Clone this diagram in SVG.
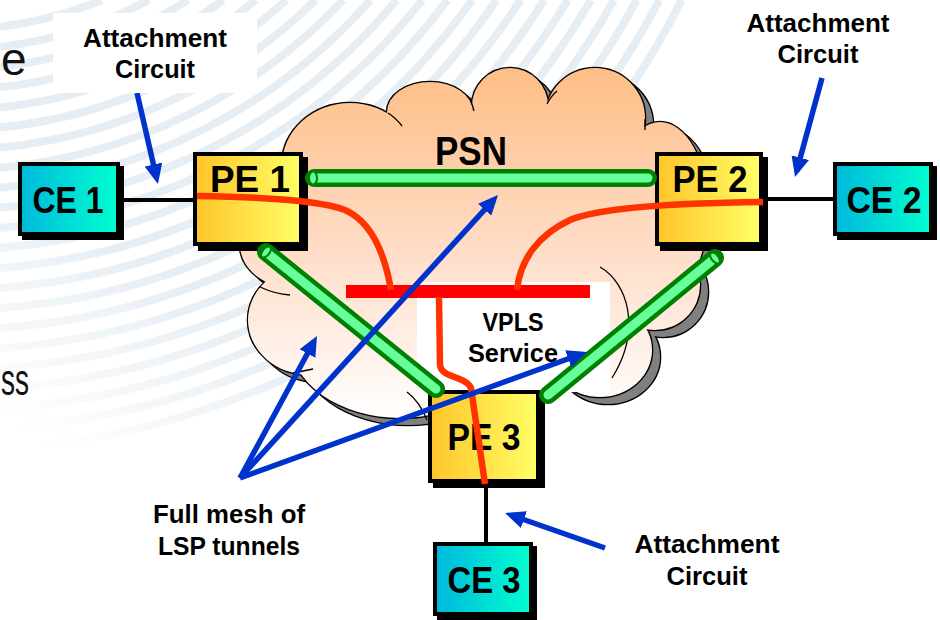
<svg xmlns="http://www.w3.org/2000/svg" width="940" height="620" viewBox="0 0 940 620">
<defs>
<style>
 text { font-family: "Liberation Sans", Arial, sans-serif; font-weight: bold; fill: #000; }
 .frag { font-weight: normal; fill: #111; }
 .lbl { font-size: 25px; text-anchor: middle; }
 .box { font-size: 37px; text-anchor: middle; }
 .link { stroke: #000; stroke-width: 4; fill: none; }
 .arrow { stroke: #0033CC; stroke-width: 5.5; fill: none; marker-end: url(#ah); }
 .red { stroke: #FF3300; stroke-width: 6.5; fill: none; }
 .tubeO { stroke: #008000; stroke-width: 18; stroke-linecap: round; fill: none; }
 .tubeI { stroke: #66FF99; stroke-width: 9; stroke-linecap: round; fill: none; }
 .tubeE { fill: #66FF99; stroke: #008000; stroke-width: 2; }
 .shadow { fill: #000; stroke: #000; stroke-width: 4; }
 .pe { fill: url(#peG); stroke: #000; stroke-width: 4; }
 .ce { fill: url(#ceG); stroke: #000; stroke-width: 4; }
 .tick { fill: none; stroke: #000; stroke-width: 1.3; }
 .swoosh { fill: none; stroke: url(#swG); stroke-width: 8; }
</style>
<linearGradient id="peG" x1="0" y1="0" x2="1" y2="0">
 <stop offset="0" stop-color="#FFC52A"/>
 <stop offset="1" stop-color="#FFFF66"/>
</linearGradient>
<linearGradient id="ceG" x1="0" y1="0" x2="1" y2="0">
 <stop offset="0" stop-color="#00B8DC"/>
 <stop offset="1" stop-color="#00FFD0"/>
</linearGradient>
<linearGradient id="cloudG" gradientUnits="userSpaceOnUse" x1="0" y1="70" x2="0" y2="420">
 <stop offset="0" stop-color="#FFBE86"/>
 <stop offset="0.5" stop-color="#FFDCC6"/>
 <stop offset="1" stop-color="#FFFFFF"/>
</linearGradient>
<linearGradient id="swG" gradientUnits="userSpaceOnUse" x1="0" y1="420" x2="110" y2="240">
 <stop offset="0" stop-color="#E6EEF4" stop-opacity="0"/>
 <stop offset="1" stop-color="#E6EEF4" stop-opacity="1"/>
</linearGradient>
<marker id="ah" markerUnits="userSpaceOnUse" markerWidth="20" markerHeight="18" viewBox="0 0 20 18" refX="14" refY="9" orient="auto">
 <path d="M0,0 L20,9 L0,18 z" fill="#0033CC"/>
</marker>
<g id="cloudShape">
 <ellipse cx="350" cy="165" rx="68" ry="62"/>
 <ellipse cx="430" cy="112" rx="43" ry="30"/>
 <ellipse cx="510" cy="106" rx="38" ry="38"/>
 <ellipse cx="595" cy="118" rx="50" ry="50"/>
 <ellipse cx="660" cy="210" rx="48" ry="88"/>
 <ellipse cx="655" cy="285" rx="45" ry="45"/>
 <ellipse cx="600" cy="350" rx="52" ry="47"/>
 <ellipse cx="400" cy="340" rx="110" ry="78"/>
 <ellipse cx="310" cy="320" rx="62" ry="55"/>
 <ellipse cx="300" cy="245" rx="60" ry="45"/>
 <ellipse cx="480" cy="240" rx="215" ry="130"/>
</g>
</defs>

<g id="background">
 <path class="swoosh" d="M0,26.9 A400 400 0 0 0 102,0 M0,47 A420 420 0 0 0 148.7,0 M0,67.1 A440 440 0 0 0 188.1,0 M0,87.3 A460 460 0 0 0 223.3,0 M0,107.4 A480 480 0 0 0 255.8,0 M0,127.5 A500 500 0 0 0 286.3,0 M0,147.6 A520 520 0 0 0 315.4,0 M0,167.7 A540 540 0 0 0 343.3,0 M0,187.8 A560 560 0 0 0 370.4,0 M0,207.8 A580 580 0 0 0 396.7,0 M0,227.9 A600 600 0 0 0 422.3,0 M0,248 A620 620 0 0 0 447.5,0 M0,268 A640 640 0 0 0 472.2,0 M0,288.1 A660 660 0 0 0 496.5,0 M0,308.2 A680 680 0 0 0 520.5,0 M0,328.2 A700 700 0 0 0 544.2,0 M0,348.3 A720 720 0 0 0 567.7,0 M0,368.3 A740 740 0 0 0 590.9,0 M0,388.4 A760 760 0 0 0 613.9,0 M0,408.4 A780 780 0 0 0 636.7,0 M0,428.4 A800 800 0 0 0 659.3,0 M0,448.5 A820 820 0 0 0 681.8,0"/>
 <text class="frag" x="1" y="75" font-size="46">e</text>
 <text class="frag" x="1" y="395" font-size="44" textLength="28" lengthAdjust="spacingAndGlyphs">ss</text>
</g>

<g id="psn">
 <use href="#cloudShape" transform="translate(8,7)" fill="#808080" stroke="#000" stroke-width="2.6"/>
 <use href="#cloudShape" transform="translate(8,7)" fill="#808080" stroke="none"/>
 <use href="#cloudShape" fill="url(#cloudG)" stroke="#000" stroke-width="2.6"/>
 <use href="#cloudShape" fill="url(#cloudG)" stroke="none"/>
 <path class="tick" d="M388,113 Q396,118 402,126 M471,102 Q473,106 474,111 M547,104 Q551,96 557,91 M645,119 L645,130 M260,287 Q275,294 290,295 M293,373 Q303,371 313,369 M407,392 Q420,402 427,420 M600,267 C628,283 642,330 612,378"/>
 <text x="471" y="165" font-size="40" text-anchor="middle" textLength="72" lengthAdjust="spacingAndGlyphs">PSN</text>
</g>

<g id="vpls">
 <rect x="417" y="282" width="193" height="110" fill="#FFFFFF"/>
 <rect x="346" y="285" width="244" height="13" fill="#FF0000"/>
 <text class="lbl" x="513" y="331" textLength="61" lengthAdjust="spacingAndGlyphs">VPLS</text>
 <text class="lbl" x="513" y="362" textLength="90" lengthAdjust="spacingAndGlyphs">Service</text>
</g>

<g id="ce1">
 <rect class="shadow" x="24" y="168" width="98" height="70"/>
 <rect class="ce" x="20" y="164" width="98" height="70"/>
 <text class="box" x="68" y="213" textLength="71" lengthAdjust="spacingAndGlyphs">CE 1</text>
</g>
<g id="pe1">
 <rect class="shadow" x="200" y="159" width="106" height="90"/>
 <rect class="pe" x="195" y="154" width="106" height="90"/>
 <text class="box" x="250" y="192" textLength="80" lengthAdjust="spacingAndGlyphs">PE 1</text>
</g>
<g id="pe2">
 <rect class="shadow" x="662" y="159" width="104" height="90"/>
 <rect class="pe" x="657" y="154" width="104" height="90"/>
 <text class="box" x="710" y="192" textLength="75" lengthAdjust="spacingAndGlyphs">PE 2</text>
</g>
<g id="ce2">
 <rect class="shadow" x="839" y="168" width="96" height="70"/>
 <rect class="ce" x="835" y="164" width="96" height="70"/>
 <text class="box" x="884" y="213" textLength="75" lengthAdjust="spacingAndGlyphs">CE 2</text>
</g>
<g id="pe3">
 <rect class="shadow" x="435" y="397" width="108" height="89"/>
 <rect class="pe" x="430" y="392" width="108" height="89"/>
 <text class="box" x="484" y="450" textLength="73" lengthAdjust="spacingAndGlyphs">PE 3</text>
</g>
<g id="ce3">
 <rect class="shadow" x="439" y="548" width="96" height="70"/>
 <rect class="ce" x="435" y="544" width="96" height="70"/>
 <text class="box" x="484" y="593" textLength="73" lengthAdjust="spacingAndGlyphs">CE 3</text>
</g>

<g id="connectors">
 <path class="link" d="M121,200 L194,200 M762,199 L834,199 M486,483 L486,543"/>
 <path class="red" d="M197,196 C260,197 320,200 345,210 C372,222 385,255 391,290"/>
 <path class="red" d="M763,202 C680,203 600,207 570,220 C538,235 520,260 517,290"/>
 <path class="red" d="M439,297 L440,365 C441,378 466,376 471,388 L485,484"/>
 <path class="tubeO" d="M314,178 L648,178"/>
 <path class="tubeI" d="M318,178 L648,178"/>
 <ellipse class="tubeE" cx="313" cy="178" rx="4" ry="6.5"/>
 <path class="tubeO" d="M266,252 L436,389"/>
 <path class="tubeI" d="M269,254.5 L436,389"/>
 <ellipse class="tubeE" cx="0" cy="0" rx="3.5" ry="6.5" transform="translate(266,252) rotate(38.9)"/>
 <path class="tubeO" d="M715,258 L548,395"/>
 <path class="tubeI" d="M712,260.5 L548,395"/>
 <ellipse class="tubeE" cx="0" cy="0" rx="3.5" ry="6.5" transform="translate(715,258) rotate(-39.4)"/>
 <path class="arrow" d="M137,93 L156.6,178.2"/>
 <path class="arrow" d="M822,78 L796.6,171.2"/>
 <path class="arrow" d="M605,548 L510.7,515"/>
 <path class="arrow" d="M240,478 L314.1,341.3"/>
 <path class="arrow" d="M240,478 L494,199.4"/>
 <path class="arrow" d="M240,478 L581.4,354"/>
</g>

<g id="labels">
 <rect x="53" y="13" width="204" height="80" fill="#FFFFFF"/>
 <text class="lbl" x="155" y="47" textLength="144" lengthAdjust="spacingAndGlyphs">Attachment</text>
 <text class="lbl" x="155" y="78" textLength="80" lengthAdjust="spacingAndGlyphs">Circuit</text>
 <text class="lbl" x="818" y="32" textLength="143" lengthAdjust="spacingAndGlyphs">Attachment</text>
 <text class="lbl" x="818" y="63" textLength="81" lengthAdjust="spacingAndGlyphs">Circuit</text>
 <text class="lbl" x="707" y="553" textLength="145" lengthAdjust="spacingAndGlyphs">Attachment</text>
 <text class="lbl" x="707" y="585" textLength="81" lengthAdjust="spacingAndGlyphs">Circuit</text>
 <text class="lbl" x="229" y="523" textLength="152" lengthAdjust="spacingAndGlyphs">Full mesh of</text>
 <text class="lbl" x="229" y="555" textLength="142" lengthAdjust="spacingAndGlyphs">LSP tunnels</text>
</g>
</svg>
